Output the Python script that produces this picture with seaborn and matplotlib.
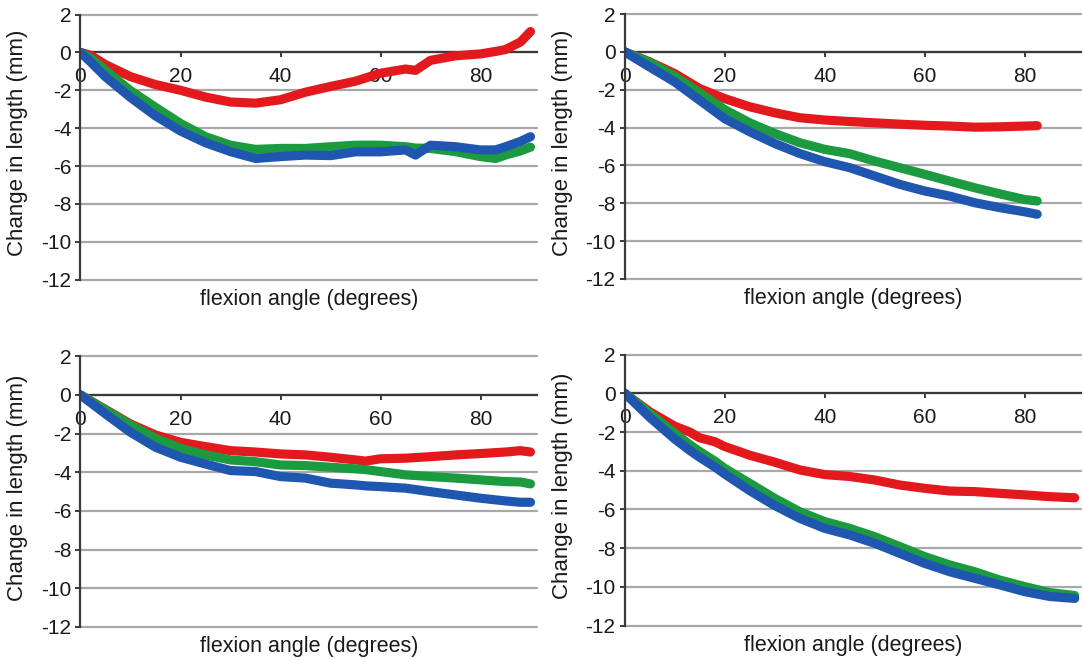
import matplotlib
matplotlib.use("Agg")
import matplotlib.pyplot as plt
import pandas as pd
import seaborn as sns

# ---- data: change in ligament length (mm) vs knee flexion angle (degrees) ----
series_names = ["fibre 1", "fibre 2", "fibre 3"]
series_colors = ["#e3191e", "#1c9a40", "#1f56b0"]

a_angle = [0, 2, 5, 10, 15, 20, 25, 30, 35, 40, 45, 50, 55, 60, 65, 67, 70, 75, 80, 83, 85, 88, 90]
a_red = [0, -0.15, -0.65, -1.28, -1.7, -2.0, -2.36, -2.62, -2.68, -2.5, -2.1, -1.8, -1.52, -1.1,
         -0.88, -0.95, -0.42, -0.18, -0.08, 0.05, 0.15, 0.55, 1.1]
a_green = [0, -0.3, -0.95, -2.02, -2.9, -3.75, -4.45, -4.9, -5.12, -5.07, -5.07, -4.98, -4.9, -4.9,
           -4.98, -5.05, -5.07, -5.24, -5.5, -5.6, -5.42, -5.2, -5.0]
a_blue = [0, -0.5, -1.29, -2.38, -3.35, -4.15, -4.77, -5.24, -5.6, -5.5, -5.42, -5.45, -5.25, -5.25,
          -5.15, -5.42, -4.9, -4.98, -5.15, -5.15, -4.98, -4.7, -4.45]

b_angle = [0, 5, 10, 15, 20, 25, 30, 35, 40, 45, 50, 55, 60, 65, 70, 75, 80, 82.5]
b_red = [0, -0.53, -1.15, -1.94, -2.47, -2.9, -3.22, -3.48, -3.6, -3.68, -3.75, -3.82, -3.88,
         -3.92, -3.98, -3.96, -3.92, -3.9]
b_green = [0, -0.55, -1.29, -2.17, -3.05, -3.75, -4.31, -4.8, -5.15, -5.38, -5.77, -6.12, -6.47,
           -6.83, -7.18, -7.5, -7.8, -7.88]
b_blue = [0, -0.8, -1.59, -2.56, -3.53, -4.22, -4.84, -5.37, -5.8, -6.12, -6.56, -7.0, -7.35,
          -7.62, -7.97, -8.23, -8.45, -8.58]

c_angle = [0, 5, 10, 15, 20, 25, 30, 35, 40, 45, 50, 55, 57, 60, 65, 70, 75, 80, 85, 88, 90]
c_red = [0, -0.75, -1.5, -2.07, -2.45, -2.67, -2.88, -2.95, -3.05, -3.1, -3.22, -3.36, -3.42,
         -3.3, -3.27, -3.19, -3.1, -3.03, -2.95, -2.88, -2.95]
c_green = [0, -0.78, -1.55, -2.24, -2.76, -3.1, -3.36, -3.45, -3.62, -3.65, -3.74, -3.82, -3.86,
           -3.96, -4.13, -4.22, -4.3, -4.39, -4.48, -4.5, -4.6]
c_blue = [0, -0.98, -1.93, -2.7, -3.22, -3.57, -3.91, -3.96, -4.22, -4.3, -4.56, -4.65, -4.7,
          -4.74, -4.82, -5.0, -5.17, -5.34, -5.48, -5.55, -5.55]

d_angle = [0, 5, 10, 13, 15, 18, 20, 25, 30, 35, 40, 45, 50, 55, 60, 65, 70, 75, 80, 85, 90]
d_red = [0, -0.95, -1.7, -2.0, -2.3, -2.5, -2.75, -3.2, -3.56, -3.96, -4.2, -4.3, -4.48,
         -4.74, -4.91, -5.05, -5.08, -5.17, -5.25, -5.34, -5.4]
d_green = [0, -1.03, -2.07, -2.65, -3.01, -3.5, -3.88, -4.65, -5.43, -6.12, -6.63, -6.98, -7.41,
           -7.92, -8.44, -8.87, -9.22, -9.65, -9.99, -10.3, -10.45]
d_blue = [0, -1.24, -2.36, -2.95, -3.31, -3.8, -4.17, -5.03, -5.8, -6.46, -6.98, -7.32, -7.75,
          -8.27, -8.79, -9.22, -9.56, -9.9, -10.25, -10.5, -10.6]

y_ticks = [2, 0, -2, -4, -6, -8, -10, -12]
x_ticks = [0, 20, 40, 60, 80]
x_label = "flexion angle (degrees)"
y_label = "Change in length (mm)"

panels = [
    (a_angle, a_red, a_green, a_blue),
    (b_angle, b_red, b_green, b_blue),
    (c_angle, c_red, c_green, c_blue),
    (d_angle, d_red, d_green, d_blue),
]

# ---- style ----
sns.set_style("white")
plt.rcParams["font.family"] = ["Liberation Sans", "DejaVu Sans"]
plt.rcParams["axes.unicode_minus"] = False

W, H = 1084, 660
fig = plt.figure(figsize=(W / 100, H / 100), dpi=100)

# axes boxes in pixels: left, top, right, bottom
boxes = [
    (80.5, 14.5, 537.0, 279.7),
    (624.7, 14.0, 1081.2, 279.0),
    (80.5, 356.3, 537.0, 627.0),
    (624.7, 354.6, 1081.2, 625.5),
]

dark = "#3a3a3a"
grid = "#a8a8a8"
text_col = "#1a1a1a"

for (angle, red, green, blue), (l, t, r, b) in zip(panels, boxes):
    ax = fig.add_axes([l / W, 1 - b / H, (r - l) / W, (b - t) / H])
    n = len(angle)
    df = pd.DataFrame({
        "angle": angle * 3,
        "change": red + green + blue,
        "series": [series_names[0]] * n + [series_names[1]] * n + [series_names[2]] * n,
    })
    sns.lineplot(data=df, x="angle", y="change", hue="series", hue_order=series_names,
                 palette=series_colors, linewidth=6.6, legend=False, ax=ax,
                 solid_capstyle="round", solid_joinstyle="round")

    ax.set_xlim(0, 91.3)
    ax.set_ylim(-12, 2)
    ax.set_yticks(y_ticks)
    ax.set_yticklabels([str(v) for v in y_ticks])
    ax.set_xticks(x_ticks)
    ax.set_xticklabels([str(v) for v in x_ticks])

    ax.yaxis.grid(True, color=grid, linewidth=1.6)
    ax.xaxis.grid(False)
    for gl in ax.get_ygridlines():
        gl.set_clip_on(False)
    ax.set_axisbelow(True)

    for s in ("top", "right"):
        ax.spines[s].set_visible(False)
    ax.spines["left"].set_color(dark)
    ax.spines["left"].set_linewidth(1.6)
    ax.spines["bottom"].set_position(("data", 0))
    ax.spines["bottom"].set_color(dark)
    ax.spines["bottom"].set_linewidth(1.6)
    ax.spines["bottom"].set_zorder(1.5)

    ax.tick_params(axis="y", direction="out", length=3.6, width=1.4, color=dark,
                   labelsize=15, pad=3, labelcolor=text_col, left=True)
    ax.tick_params(axis="x", direction="out", length=3.6, width=1.4, color=dark,
                   labelsize=15, pad=7, labelcolor=text_col, bottom=True)

    ax.set_xlabel(x_label, fontsize=15.5, color=text_col)
    ax.set_ylabel(y_label, fontsize=16, color=text_col)
    ax.xaxis.set_label_coords(0.5, -9.0 / (b - t))
    ax.yaxis.set_label_coords(-52.0 / (r - l), 0.515)

fig.savefig("out.png", dpi=100, facecolor="white")
